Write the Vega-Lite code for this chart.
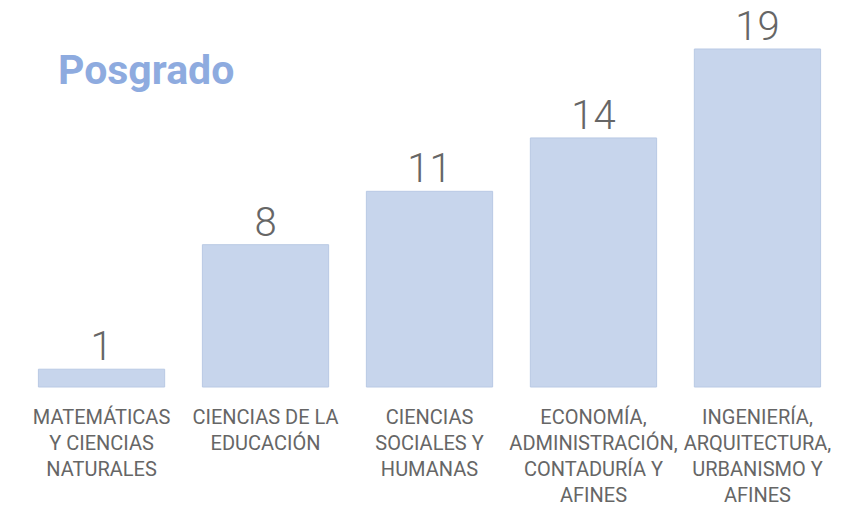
{
  "$schema": "https://vega.github.io/schema/vega-lite/v6.json",
  "width": 815,
  "height": 338,
  "autosize": {"type": "none"},
  "padding": {"left": 22, "top": 49, "right": 29, "bottom": 122},
  "background": "white",
  "title": {
    "text": "Posgrado",
    "anchor": "start",
    "font": "Roboto",
    "fontSize": 41,
    "fontWeight": "bold",
    "color": "#8eabdf",
    "baseline": "alphabetic",
    "offset": 0,
    "dx": 36,
    "dy": 117
  },
  "data": {
    "values": [
      {"area": "MATEMÁTICAS|Y CIENCIAS|NATURALES", "n": 1},
      {"area": "CIENCIAS DE LA|EDUCACIÓN", "n": 8},
      {"area": "CIENCIAS|SOCIALES Y|HUMANAS", "n": 11},
      {"area": "ECONOMÍA,|ADMINISTRACIÓN,|CONTADURÍA Y|AFINES", "n": 14},
      {"area": "INGENIERÍA,|ARQUITECTURA,|URBANISMO Y|AFINES", "n": 19}
    ]
  },
  "encoding": {
    "x": {
      "field": "area",
      "type": "nominal",
      "sort": null,
      "scale": {"paddingInner": 0.23, "paddingOuter": 0.1},
      "axis": {
        "title": null,
        "domain": false,
        "ticks": false,
        "labelAngle": 0,
        "labelExpr": "split(datum.label, '|')",
        "labelFont": "Roboto",
        "labelFontSize": 20,
        "labelColor": "#666666",
        "labelLineHeight": 26,
        "labelPadding": 20,
        "labelBaseline": "top",
        "labelLimit": 0
      }
    },
    "y": {
      "field": "n",
      "type": "quantitative",
      "scale": {"domain": [0, 19], "nice": false},
      "axis": null
    }
  },
  "layer": [
    {
      "mark": {"type": "bar", "color": "#c7d5ec", "stroke": "#b9c9e4", "strokeWidth": 1}
    },
    {
      "mark": {"type": "text", "font": "Roboto", "fontSize": 40, "fontWeight": 300, "color": "#666666", "baseline": "alphabetic", "dy": -9},
      "encoding": {"text": {"field": "n", "type": "quantitative"}}
    }
  ],
  "config": {"view": {"stroke": null}}
}
